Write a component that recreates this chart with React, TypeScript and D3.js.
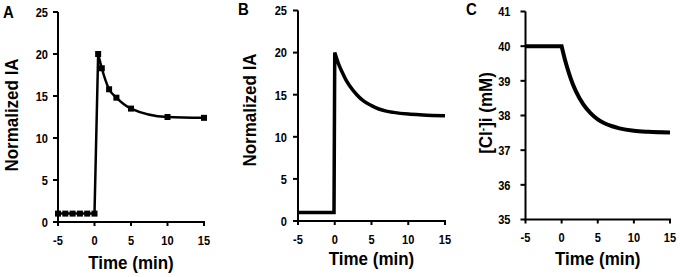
import React from "react";
import * as d3 from "d3";

// ---------- data ----------
const timeTicks = [-5, 0, 5, 10, 15];
const iaTicks = [0, 5, 10, 15, 20, 25];
const clTicks = [35, 36, 37, 38, 39, 40, 41];

// Panel A: measured points
const aBaseTime = [-5, -4, -3, -2, -1, 0];
const aBaseValue = [1, 1, 1, 1, 1, 1];
const aDecayTime = [0.5, 1, 2, 3, 5, 10, 15];
const aDecayValue = [20, 18.3, 15.8, 14.8, 13.5, 12.5, 12.4];

// Panel B: simulated normalized IA
const bStepTime = [-5, -0.1];
const bStepValue = [1, 1];
const bDecayTime = [0, 0.5, 1, 1.5, 2, 3, 4, 5, 6, 7, 8, 10, 12, 15];
const bDecayValue = [20, 18.7, 17.7, 16.8, 16.1, 15.0, 14.2, 13.7, 13.3, 13.05, 12.9, 12.7, 12.6, 12.5];

// Panel C: simulated [Cl-]i
const cStepTime = [-5];
const cStepValue = [40];
const cDecayTime = [0, 0.5, 1, 1.5, 2, 3, 4, 5, 6, 7, 8, 10, 12, 15];
const cDecayValue = [40, 39.58, 39.23, 38.93, 38.69, 38.32, 38.07, 37.89, 37.77, 37.69, 37.63, 37.56, 37.53, 37.51];

const FONT = "'Liberation Sans', Arial, Helvetica, sans-serif";

type PanelProps = {
  letter: string;
  letterX: number;
  letterY: number;
  xRange: [number, number];
  yRange: [number, number];
  yDomain: [number, number];
  yTicks: number[];
  yTickLabelGap: number;
  yTitle: React.ReactNode;
  yTitleX: number;
  yTitleY: number;
  titleY: number;
  stepT: number[];
  stepV: number[];
  decayT: number[];
  decayV: number[];
  lineWidth: number;
  markers?: { t: number[]; v: number[] }[];
};

function Panel(p: PanelProps) {
  const x = d3.scaleLinear().domain([-5, 15]).range(p.xRange);
  const y = d3.scaleLinear().domain(p.yDomain).range(p.yRange);
  const [x0, x1] = p.xRange;
  const [yb, yt] = p.yRange;

  const stepPts: [number, number][] = p.stepT.map((t, i) => [x(t), y(p.stepV[i])]);
  const decayPts: [number, number][] = p.decayT.map((t, i) => [x(t), y(p.decayV[i])]);
  const linear = d3.line().curve(d3.curveLinear)(stepPts) || "";
  const smooth = d3.line().curve(d3.curveMonotoneX)(decayPts) || "";
  const d = linear + smooth.replace(/^M/, "L");

  return (
    <g>
      <text
        transform={`translate(${p.letterX},${p.letterY}) scale(1,1.1)`}
        fontFamily={FONT}
        fontWeight="bold"
        fontSize={15}
      >
        {p.letter}
      </text>
      {/* y axis */}
      <line x1={x0} x2={x0} y1={yt} y2={yb} stroke="#000" strokeWidth={2} />
      {p.yTicks.map((v) => (
        <g key={"y" + v}>
          <line x1={x0 - 5} x2={x0} y1={y(v)} y2={y(v)} stroke="#000" strokeWidth={2} />
          <text
            transform={`translate(${x0 - p.yTickLabelGap},${y(v)}) scale(0.92,1.12)`}
            dy="0.36em"
            textAnchor="end"
            fontFamily={FONT}
            fontWeight="bold"
            fontSize={12}
          >
            {v}
          </text>
        </g>
      ))}
      {/* x axis */}
      <line x1={x0 - 1} x2={x1 + 1} y1={yb} y2={yb} stroke="#000" strokeWidth={2} />
      {timeTicks.map((t) => (
        <g key={"x" + t}>
          <line x1={x(t)} x2={x(t)} y1={yb} y2={yb + 4} stroke="#000" strokeWidth={2} />
          <text
            transform={`translate(${x(t)},${yb + 22.5}) scale(0.92,1.12)`}
            textAnchor="middle"
            fontFamily={FONT}
            fontWeight="bold"
            fontSize={12}
          >
            {t}
          </text>
        </g>
      ))}
      <text
        transform={`translate(${x(5)},${p.titleY}) scale(1,1.12)`}
        textAnchor="middle"
        fontFamily={FONT}
        fontWeight="bold"
        fontSize={17}
      >
        Time (min)
      </text>
      <text
        transform={`translate(${p.yTitleX},${p.yTitleY}) rotate(-90) scale(1,1.12)`}
        textAnchor="middle"
        dy="0.36em"
        fontFamily={FONT}
        fontWeight="bold"
        fontSize={17}
      >
        {p.yTitle}
      </text>
      <path d={d} fill="none" stroke="#000" strokeWidth={p.lineWidth} strokeLinejoin="miter" />
      {p.markers &&
        p.markers.map((m, mi) =>
          m.t.map((t, i) => (
            <rect
              key={"m" + mi + "-" + i}
              x={x(t) - 3}
              y={y(m.v[i]) - 3}
              width={6}
              height={6}
              fill="#000"
            />
          ))
        )}
    </g>
  );
}

export default function App() {
  return (
    <svg
      width={680}
      height={277}
      style={{ position: "absolute", left: 0, top: 0, background: "#fff" }}
    >
      <rect width={680} height={277} fill="#fff" />
      <Panel
        letter="A"
        letterX={3}
        letterY={18}
        xRange={[58, 204]}
        yRange={[222, 12]}
        yDomain={[0, 25]}
        yTicks={iaTicks}
        yTickLabelGap={10}
        yTitle="Normalized IA"
        yTitleX={11}
        yTitleY={115}
        titleY={269}
        stepT={aBaseTime}
        stepV={aBaseValue}
        decayT={aDecayTime}
        decayV={aDecayValue}
        lineWidth={2.5}
        markers={[
          { t: aBaseTime, v: aBaseValue },
          { t: aDecayTime, v: aDecayValue },
        ]}
      />
      <Panel
        letter="B"
        letterX={238}
        letterY={15}
        xRange={[298, 445]}
        yRange={[221, 10.5]}
        yDomain={[0, 25]}
        yTicks={iaTicks}
        yTickLabelGap={11}
        yTitle="Normalized IA"
        yTitleX={249}
        yTitleY={110}
        titleY={264.5}
        stepT={bStepTime}
        stepV={bStepValue}
        decayT={bDecayTime}
        decayV={bDecayValue}
        lineWidth={3.5}
      />
      <Panel
        letter="C"
        letterX={466}
        letterY={15}
        xRange={[525.5, 670]}
        yRange={[219.5, 11.5]}
        yDomain={[35, 41]}
        yTicks={clTicks}
        yTickLabelGap={15}
        yTitle={
          <>
            [Cl
            <tspan baselineShift="super" fontSize={10}>
              -
            </tspan>
            ]i (mM)
          </>
        }
        yTitleX={485}
        yTitleY={113}
        titleY={264.5}
        stepT={cStepTime}
        stepV={cStepValue}
        decayT={cDecayTime}
        decayV={cDecayValue}
        lineWidth={4}
      />
    </svg>
  );
}
